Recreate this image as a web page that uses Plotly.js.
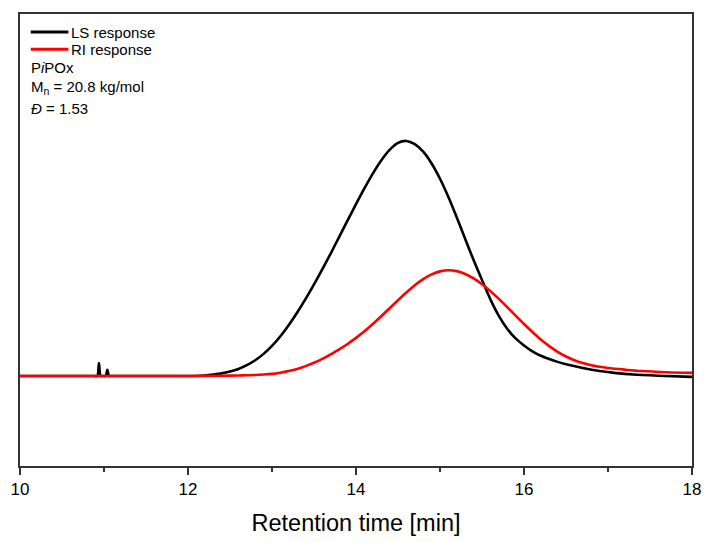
<!DOCTYPE html>
<html>
<head>
<meta charset="utf-8">
<script src="https://cdn.plot.ly/plotly-3.0.1.min.js"></script>
<style>
  html, body { margin: 0; padding: 0; background: #ffffff; }
  #chart { width: 707px; height: 542px; }
</style>
</head>
<body>
<div id="chart"></div>
<script>
// SEC traces of PiPOx: light scattering (LS) and refractive index (RI) detector responses
// Retention time in minutes, detector signal in normalised units (baseline = 0)

const lsTime = [10.00, 10.30, 10.60, 10.80, 10.88, 10.92, 10.94, 10.96, 10.99, 11.02, 11.04, 11.06,
  11.09, 11.20, 11.40, 11.80,
  12.00, 12.10, 12.20, 12.30, 12.40, 12.50, 12.60, 12.70, 12.80, 12.90,
  13.00, 13.10, 13.20, 13.30, 13.40, 13.50, 13.60, 13.70, 13.80, 13.90,
  14.00, 14.10, 14.20, 14.30, 14.40, 14.50, 14.60, 14.70, 14.80, 14.90,
  15.00, 15.10, 15.20, 15.30, 15.40, 15.50, 15.60, 15.70, 15.80, 15.90,
  16.00, 16.10, 16.20, 16.30, 16.40, 16.50, 16.70, 16.90, 17.10, 17.30, 17.60, 18.00];
const lsSignal = [0.000, 0.000, 0.000, 0.000, 0.000, 0.000, 0.055, 0.000, 0.000, 0.000, 0.026, 0.000,
  0.000, 0.000, 0.000, 0.000,
  0.000, 0.000, 0.002, 0.006, 0.011, 0.019, 0.030, 0.046, 0.067, 0.094,
  0.128, 0.169, 0.217, 0.270, 0.328, 0.390, 0.455, 0.522, 0.592, 0.662,
  0.731, 0.798, 0.861, 0.917, 0.962, 0.992, 1.000, 0.986, 0.954, 0.904,
  0.839, 0.761, 0.674, 0.583, 0.493, 0.408, 0.326, 0.256, 0.201, 0.160,
  0.130, 0.105, 0.086, 0.072, 0.060, 0.050, 0.034, 0.021, 0.012, 0.006, 0.001, -0.004];

const riTime = [10.00, 11.00, 12.00, 12.40, 12.60, 12.70, 12.80, 12.90,
  13.00, 13.10, 13.20, 13.30, 13.40, 13.50, 13.60, 13.70, 13.80, 13.90,
  14.00, 14.10, 14.20, 14.30, 14.40, 14.50, 14.60, 14.70, 14.80, 14.90,
  15.00, 15.10, 15.20, 15.30, 15.40, 15.50, 15.60, 15.70, 15.80, 15.90,
  16.00, 16.10, 16.20, 16.30, 16.40, 16.50, 16.60, 16.70, 16.80, 16.90,
  17.00, 17.20, 17.40, 17.70, 18.00];
const riSignal = [0.000, 0.000, 0.000, 0.001, 0.002, 0.003, 0.004, 0.006,
  0.009, 0.014, 0.021, 0.030, 0.042, 0.056, 0.073, 0.092, 0.113, 0.136,
  0.162, 0.190, 0.221, 0.254, 0.288, 0.322, 0.355, 0.386, 0.412, 0.432,
  0.445, 0.450, 0.446, 0.434, 0.415, 0.390, 0.361, 0.328, 0.293, 0.257,
  0.221, 0.187, 0.155, 0.127, 0.103, 0.083, 0.067, 0.055, 0.046, 0.039,
  0.034, 0.027, 0.021, 0.016, 0.013];

const xTickVals = [10, 12, 14, 16, 18];
const xTickText = ['10', '12', '14', '16', '18'];

const seriesNames = ['LS response', 'RI response'];
const seriesColors = ['#000000', '#ff0000'];
const sampleLines = ['P<i>i</i>POx', 'M<sub>n</sub> = 20.8 kg/mol', '<i>Đ</i> = 1.53'];

const font = 'Arial, "Liberation Sans", sans-serif';
const labelFont = { family: font, size: 15, color: '#000000' };

const traces = [
  {
    x: lsTime, y: lsSignal, name: seriesNames[0], type: 'scatter', mode: 'lines',
    line: { color: seriesColors[0], width: 2.6, shape: 'spline', smoothing: 0.8, simplify: false }
  },
  {
    x: riTime, y: riSignal, name: seriesNames[1], type: 'scatter', mode: 'lines',
    line: { color: seriesColors[1], width: 2.6, shape: 'spline', smoothing: 0.8, simplify: false }
  }
];

// Key in the upper-left corner: a short line sample per series, then the sample details
const keyRowY = [0.960, 0.922];
const detailRowY = [0.881, 0.838, 0.792];
const shapes = [];
const annotations = [];
seriesNames.forEach((name, i) => {
  shapes.push({
    type: 'line', xref: 'paper', yref: 'paper',
    x0: 0.016, x1: 0.072, y0: keyRowY[i], y1: keyRowY[i],
    line: { color: seriesColors[i], width: 3 }
  });
  annotations.push({
    text: name, xref: 'paper', yref: 'paper', x: 0.073, y: keyRowY[i],
    xanchor: 'left', yanchor: 'middle', showarrow: false, font: labelFont
  });
});
sampleLines.forEach((t, i) => {
  annotations.push({
    text: t, xref: 'paper', yref: 'paper', x: 0.014, y: detailRowY[i],
    xanchor: 'left', yanchor: 'middle', showarrow: false, font: labelFont
  });
});

const layout = {
  width: 707, height: 542,
  margin: { l: 20, r: 15, t: 14, b: 76 },
  paper_bgcolor: '#ffffff', plot_bgcolor: '#ffffff',
  font: { family: font, color: '#000000' },
  showlegend: false,
  xaxis: {
    range: [10, 18], tickmode: 'array', tickvals: xTickVals, ticktext: xTickText,
    ticks: 'outside', ticklen: 7, tickwidth: 1.5, tickcolor: '#333333',
    minor: { dtick: 1, tick0: 10, ticks: 'outside', ticklen: 4, tickwidth: 1.5, tickcolor: '#333333' },
    showline: true, linecolor: '#333333', linewidth: 1.6, mirror: true,
    showgrid: false, zeroline: false,
    tickfont: { family: font, size: 17, color: '#000000' },
    title: { text: 'Retention time [min]', font: { family: font, size: 23.5, color: '#000000' }, standoff: 16 }
  },
  yaxis: {
    range: [-0.383, 1.540], showticklabels: false, ticks: '',
    showline: true, linecolor: '#333333', linewidth: 1.6, mirror: true,
    showgrid: false, zeroline: false
  },
  shapes: shapes,
  annotations: annotations
};

Plotly.newPlot('chart', traces, layout, { displayModeBar: false, staticPlot: true });
</script>
</body>
</html>
